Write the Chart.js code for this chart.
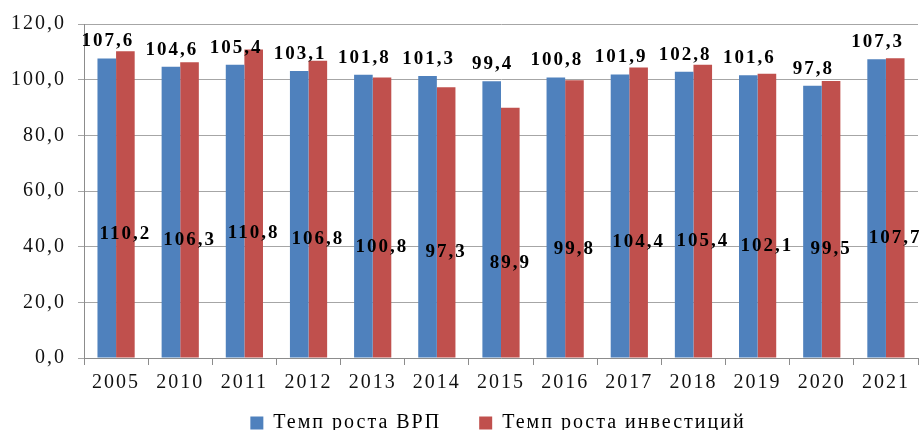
<!DOCTYPE html>
<html>
<head>
<meta charset="utf-8">
<script src="https://cdn.jsdelivr.net/npm/chart.js@4.4.0/dist/chart.umd.min.js"></script>
<style>
  html, body { margin: 0; padding: 0; background: #fff; overflow: hidden; }
  #wrap { width: 920px; height: 449px; position: relative; }
</style>
</head>
<body>
<div id="wrap"><canvas id="myChart"></canvas></div>
<script>
/* data */
var years = ["2005", "2010", "2011", "2012", "2013", "2014", "2015", "2016", "2017", "2018", "2019", "2020", "2021"];
var grpGrowth = [107.6, 104.6, 105.4, 103.1, 101.8, 101.3, 99.4, 100.8, 101.9, 102.8, 101.6, 97.8, 107.3];
var investGrowth = [110.2, 106.3, 110.8, 106.8, 100.8, 97.3, 89.9, 99.8, 104.4, 105.4, 102.1, 99.5, 107.7];
var yTicks = [0, 20, 40, 60, 80, 100, 120];

function fmt(v) {
  return v.toFixed(1).replace('.', ',');
}

/* spacing like the stretched excel text */
var spacing = {
  id: 'spacing',
  beforeDraw: function (chart) {
    chart.ctx.letterSpacing = '2px';
  }
};

/* value labels: blue above bars, red inside the bar */
var valueLabels = {
  id: 'valueLabels',
  afterDatasetsDraw: function (chart) {
    var ctx = chart.ctx;
    ctx.save();
    ctx.letterSpacing = '2px';
    ctx.font = 'bold 19px "Liberation Serif", "Times New Roman", serif';
    ctx.fillStyle = '#000';
    ctx.textAlign = 'center';
    ctx.textBaseline = 'middle';
    chart.getDatasetMeta(0).data.forEach(function (bar, i) {
      ctx.fillText(fmt(grpGrowth[i]), bar.x + 1, bar.y - 17);
    });
    chart.getDatasetMeta(1).data.forEach(function (bar, i) {
      ctx.fillText(fmt(investGrowth[i]), bar.x, (bar.y + bar.base) / 2 + 30);
    });
    ctx.restore();
  }
};

var ctx = document.getElementById('myChart').getContext('2d');
var chart = new Chart(ctx, {
  type: 'bar',
  data: {
    labels: years,
    datasets: [{
      label: 'Темп роста ВРП',
      backgroundColor: '#4F81BD',
      borderColor: '#4F81BD',
      data: grpGrowth
    }, {
      label: 'Темп роста инвестиций',
      backgroundColor: '#C0504D',
      borderColor: '#C0504D',
      data: investGrowth
    }]
  },
  options: {
    responsive: true,
    maintainAspectRatio: false,
    animation: false,
    categoryPercentage: 0.58,
    barPercentage: 1.0,
    layout: { padding: { left: 0, right: 2, top: 20, bottom: 6 } },
    plugins: {
      tooltip: { enabled: false },
      legend: {
        position: 'bottom',
        labels: {
          boxWidth: 13,
          boxHeight: 13,
          padding: 10,
          color: '#000',
          font: { family: '"Liberation Serif", "Times New Roman", serif', size: 20 },
          generateLabels: function (chart) {
            var items = Chart.defaults.plugins.legend.labels.generateLabels(chart);
            items[0].text = items[0].text + '    ';
            return items;
          }
        }
      }
    },
    scales: {
      x: {
        grid: { offset: true, drawOnChartArea: false, color: '#8c8c8c', tickLength: 7 },
        border: { color: '#8c8c8c' },
        ticks: {
          color: '#111',
          padding: 6,
          font: { family: '"Liberation Serif", "Times New Roman", serif', size: 20 }
        },
        afterFit: function (scale) { scale.height = 45; }
      },
      y: {
        min: 0,
        max: 120,
        afterBuildTicks: function (scale) {
          scale.ticks = yTicks.map(function (v) { return { value: v }; });
        },
        grid: { color: '#a6a6a6', tickLength: 6 },
        border: { color: '#8c8c8c' },
        ticks: {
          color: '#111',
          padding: 12,
          font: { family: '"Liberation Serif", "Times New Roman", serif', size: 20 },
          callback: function (v) { return fmt(v); }
        },
        afterFit: function (scale) { scale.width = 84; }
      }
    }
  },
  plugins: [spacing, valueLabels]
});
</script>
</body>
</html>
